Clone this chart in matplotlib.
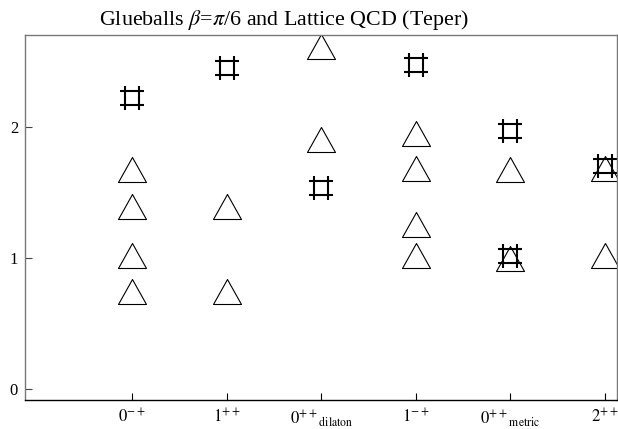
import numpy as np
import matplotlib
matplotlib.use("Agg")
import matplotlib.pyplot as plt
from matplotlib.path import Path

plt.rcParams['font.family'] = ['Liberation Serif', 'DejaVu Serif']
plt.rcParams['mathtext.fontset'] = 'stix'

# states on the x axis (positions 1..6)
states = [r'$0^{-+}$', r'$1^{++}$', r'$0^{++}{}_{\mathrm{dilaton}}$',
          r'$1^{-+}$', r'$0^{++}{}_{\mathrm{metric}}$', r'$2^{++}$']

# supergravity glueball masses (triangles), grouped by state index
tri_x = [1, 1, 1, 1,
         2, 2,
         3, 3,
         4, 4, 4, 4,
         5, 5,
         6, 6]
tri_m = [0.73, 1.0, 1.38, 1.66,
         0.73, 1.38,
         1.89, 2.60,
         1.0, 1.24, 1.67, 1.93,
         0.98, 1.66,
         1.0, 1.67]

# lattice QCD values (Teper), hash marks
lat_x = [1, 2, 3, 4, 5, 5, 6]
lat_m = [2.21, 2.44, 1.52, 2.46, 1.0, 1.96, 1.69]

DPI = 100


def marker_from_px(segments, closed):
    # build a path marker from pixel coordinates (y up), keep the size in px
    verts = []
    codes = []
    for seg in segments:
        for i, p in enumerate(seg):
            verts.append(p)
            codes.append(Path.MOVETO if i == 0 else Path.LINETO)
        if closed:
            verts.append(seg[0])
            codes.append(Path.CLOSEPOLY)
    verts = np.array(verts, dtype=float)
    m = np.abs(verts).max()
    ms = 2 * m * 72.0 / DPI
    return Path(verts, codes), ms


# triangle: 28 px wide, 25 px tall, centre lifted ~2.5 px
dy = 2.5
tri_path, tri_ms = marker_from_px(
    [[(-14, -12.5 + dy), (14, -12.5 + dy), (0, 12.5 + dy)]], True)

# hash: two vertical + two horizontal strokes, 24 px box
h, e = 7, 12
hash_path, hash_ms = marker_from_px(
    [[(-h, -e + dy), (-h, e + dy)], [(h, -e + dy), (h, e + dy)],
     [(-e, -h + dy), (e, -h + dy)], [(-e, h + dy), (e, h + dy)]], False)

fig = plt.figure(figsize=(6.18, 4.29), dpi=DPI)
ax = fig.add_axes([25 / 618, 29 / 429, 592 / 618, 365 / 429])

ax.plot(tri_x, tri_m, linestyle='none', marker=tri_path, markersize=tri_ms,
        markerfacecolor='none', markeredgecolor='black', markeredgewidth=0.8)
ax.plot(lat_x, lat_m, linestyle='none', marker=hash_path, markersize=hash_ms,
        markerfacecolor='none', markeredgecolor='black', markeredgewidth=1.5)

ax.set_xlim(-0.13, 6.127)
ax.set_ylim(-0.082, 2.705)
ax.set_xticks(range(1, 7))
ax.set_xticklabels(states)
ax.set_yticks([0, 1, 2])

for side in ['left', 'top', 'right']:
    ax.spines[side].set_color('#777777')
ax.spines['bottom'].set_color('black')
for sp in ax.spines.values():
    sp.set_linewidth(1.0)

ax.tick_params(axis='x', direction='in', length=5, width=0.8, color='black',
               labelsize=12, pad=6)
ax.tick_params(axis='y', direction='in', length=5, width=0.8, color='#444444',
               labelsize=12, pad=5)

fig.text(284 / 618, 1 - 25 / 429,
         r'Glueballs $\beta$=$\pi$/6 and Lattice QCD (Teper)',
         fontsize=15.8, ha='center', va='baseline')

fig.savefig('out.png', dpi=DPI)
